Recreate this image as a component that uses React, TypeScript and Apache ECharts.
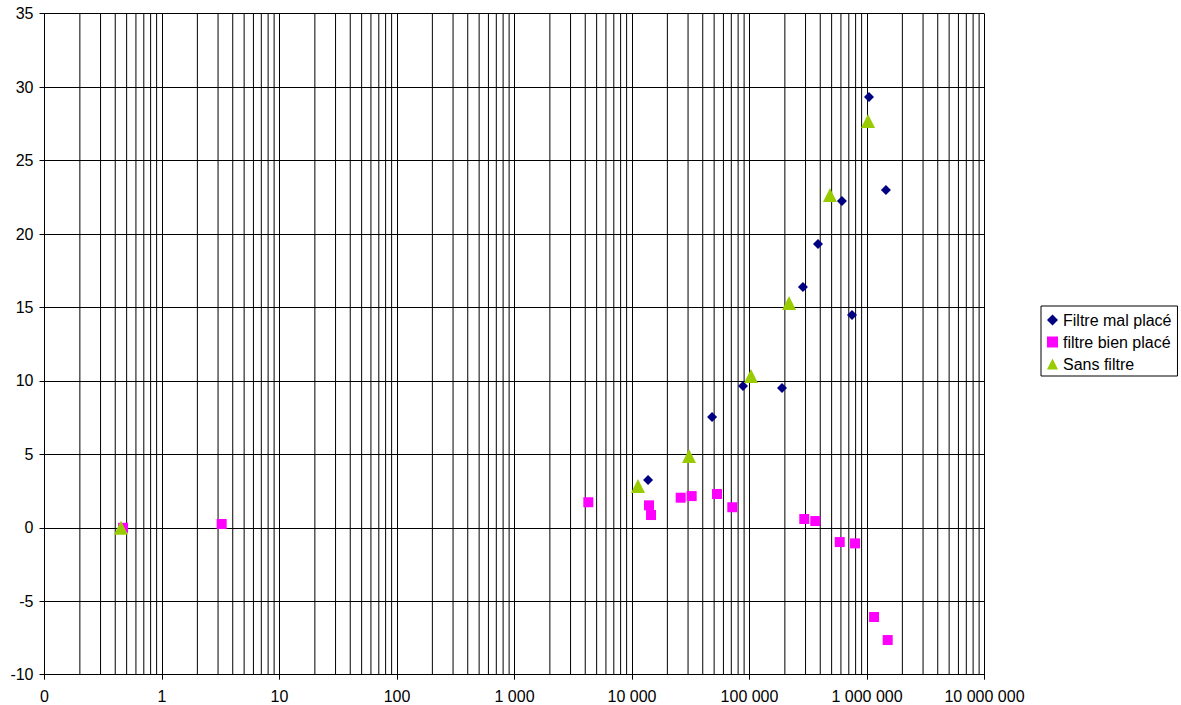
import React, { useEffect, useRef } from "react";
import * as echarts from "echarts";

const seriesNames = ["Filtre mal placé", "filtre bien placé", "Sans filtre"];

const malPlaceX = [13700, 48000, 88000, 189000, 285000, 383000, 612000, 745000, 1040000, 1450000];
const malPlaceY = [3.25, 7.54, 9.65, 9.52, 16.39, 19.32, 22.25, 14.49, 29.33, 23.0];

const bienPlaceX = [0.466, 3.22, 4250, 13960, 14520, 25960, 32200, 52900, 71400, 292500, 363000, 586000, 791000, 1148000, 1500000];
const bienPlaceY = [0, 0.26, 1.74, 1.53, 0.87, 2.05, 2.16, 2.3, 1.4, 0.6, 0.46, -0.97, -1.06, -6.07, -7.64];

const sansFiltreX = [0.448, 11250, 30550, 103000, 217000, 484000, 1020000];
const sansFiltreY = [0, 2.85, 4.89, 10.33, 15.3, 22.65, 27.69];

const xMin = 0.1;
const xMax = 10000000;
const yMin = -10;
const yMax = 35;
const yStep = 5;

// minor gridline values: 2..9 times every decade
const decades = [0.1, 1, 10, 100, 1000, 10000, 100000, 1000000];
const minorMultipliers = [2, 3, 4, 5, 6, 7, 8, 9];

const zip = (xs: number[], ys: number[]) => xs.map((x, i) => [x, ys[i]]);

const fmtX = (v: number) => {
  if (v < 1) return "0";
  return String(Math.round(v)).replace(/\B(?=(\d{3})+(?!\d))/g, " ");
};

export default function App() {
  const ref = useRef<HTMLDivElement>(null);

  useEffect(() => {
    document.body.style.margin = "0";
    if (!ref.current) return;
    const chart = echarts.init(ref.current, undefined, { renderer: "svg" });
    const minorValues: number[][] = [];
    decades.forEach((d) => minorMultipliers.forEach((m) => minorValues.push([d * m, yMin])));
    const font = "Liberation Sans, Arial, sans-serif";

    chart.setOption({
      animation: false,
      backgroundColor: "#ffffff",
      textStyle: { fontFamily: font, color: "#000" },
      grid: { left: 44.5, top: 13.7, width: 940, height: 661, containLabel: false },
      legend: {
        data: seriesNames.map((n, i) => ({
          name: n,
          icon: ["diamond", "rect", "triangle"][i],
        })),
        orient: "vertical",
        left: 1041,
        top: 306,
        padding: [6, 6, 4, 6],
        itemGap: 6,
        itemWidth: 11,
        itemHeight: 11,
        itemTextGap: 3,
        borderColor: "#000",
        borderWidth: 1,
        borderRadius: 0,
        backgroundColor: "#fff",
        textStyle: { fontFamily: font, fontSize: 16, color: "#000" },
        selectedMode: false,
      },
      xAxis: {
        type: "log",
        logBase: 10,
        min: xMin,
        max: xMax,
        axisLine: { show: true, onZero: false, lineStyle: { color: "#000", width: 1 } },
        axisTick: { show: true, inside: false, length: 5, lineStyle: { color: "#000" } },
        axisLabel: {
          show: true,
          margin: 14,
          fontFamily: font,
          fontSize: 16,
          color: "#000",
          formatter: fmtX,
        },
        splitLine: { show: true, lineStyle: { color: "#000", width: 1 } },
      },
      yAxis: {
        type: "value",
        min: yMin,
        max: yMax,
        interval: yStep,
        axisLine: { show: true, onZero: false, lineStyle: { color: "#000", width: 1 } },
        axisTick: { show: true, inside: false, length: 5, lineStyle: { color: "#000" } },
        axisLabel: { margin: 11, fontFamily: font, fontSize: 16, color: "#000" },
        splitLine: { show: true, lineStyle: { color: "#000", width: 1 } },
      },
      series: [
        {
          type: "custom",
          name: "minorGrid",
          z: 1,
          silent: true,
          data: minorValues,
          encode: { x: 0, y: 1 },
          renderItem: (params: any, api: any) => {
            const v = api.value(0);
            const p1 = api.coord([v, yMin]);
            const p2 = api.coord([v, yMax]);
            return {
              type: "line",
              shape: { x1: p1[0], y1: p1[1], x2: p2[0], y2: p2[1] },
              style: { stroke: "#000", lineWidth: 1 },
            };
          },
        },
        {
          type: "scatter",
          name: seriesNames[0],
          z: 3,
          symbol: "diamond",
          symbolSize: 10,
          itemStyle: { color: "#000080", opacity: 1 },
          emphasis: { disabled: true },
          data: zip(malPlaceX, malPlaceY),
        },
        {
          type: "scatter",
          name: seriesNames[1],
          z: 3,
          symbol: "rect",
          symbolSize: 10,
          itemStyle: { color: "#FF00FF", opacity: 1 },
          emphasis: { disabled: true },
          data: zip(bienPlaceX, bienPlaceY),
        },
        {
          type: "scatter",
          name: seriesNames[2],
          z: 4,
          symbol: "triangle",
          symbolSize: 14,
          itemStyle: { color: "#99CC00", opacity: 1 },
          emphasis: { disabled: true },
          data: zip(sansFiltreX, sansFiltreY),
        },
      ],
    });
    return () => chart.dispose();
  }, []);

  return <div ref={ref} style={{ width: 1181, height: 705 }} />;
}
